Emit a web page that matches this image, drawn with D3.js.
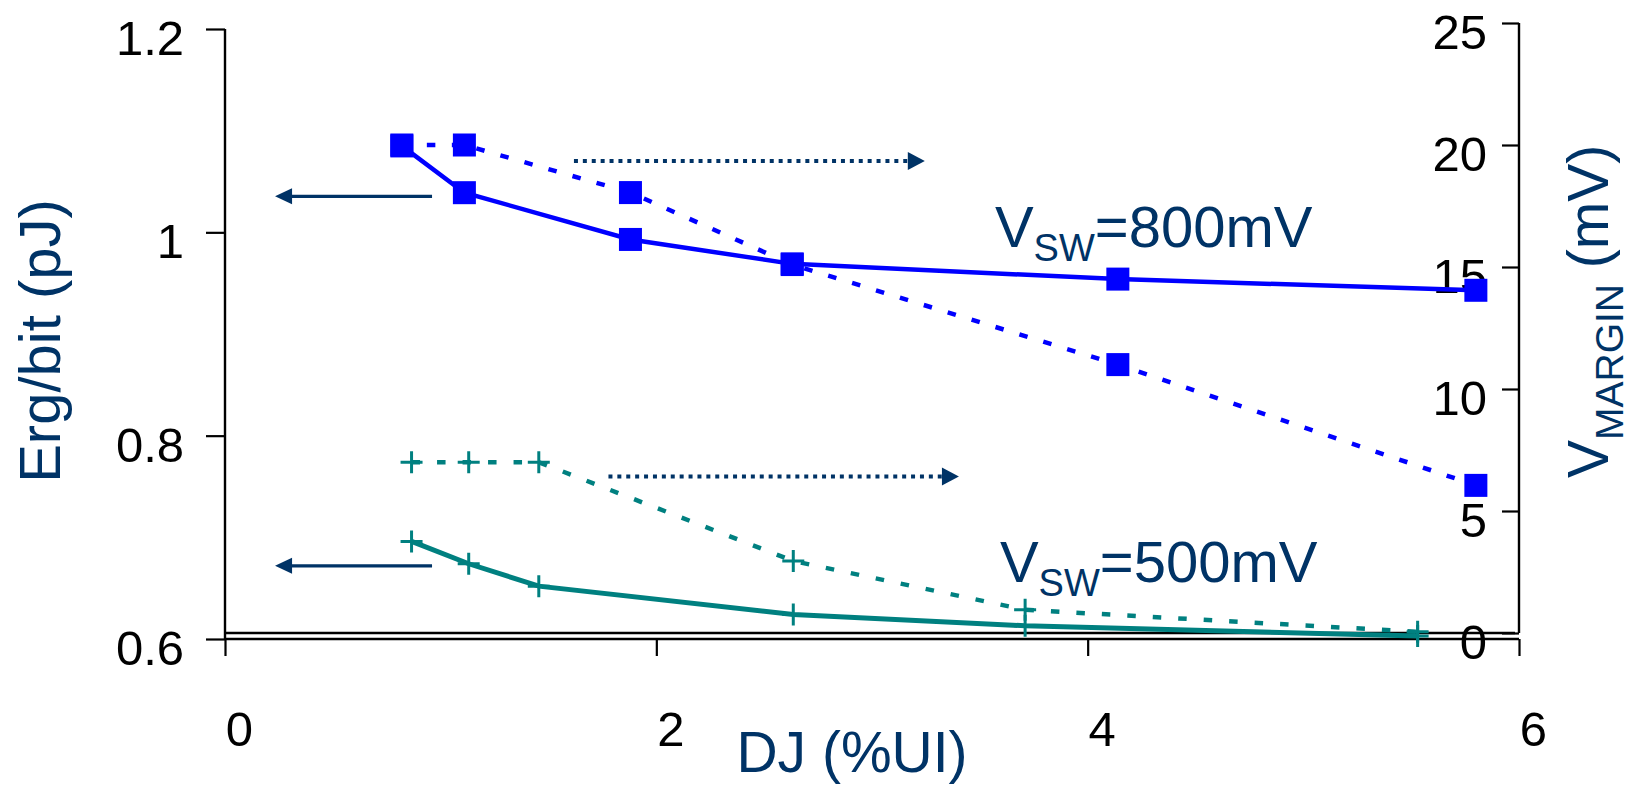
<!DOCTYPE html>
<html>
<head>
<meta charset="utf-8">
<script src="https://cdn.jsdelivr.net/npm/d3@7"></script>
<style>
  html, body { margin: 0; padding: 0; background: #fff; }
  svg { display: block; }
  text { font-family: "Liberation Sans", Arial, sans-serif; }
</style>
</head>
<body>
<svg id="chart" width="1631" height="785"></svg>
<script>
// Jitter tolerance sweep: energy per bit (left axis) and voltage margin (right axis)
const djBlue     = [0.82, 1.11, 1.88, 2.63, 4.14, 5.80];
const ergBlue    = [1.085, 1.039, 0.993, 0.969, 0.954, 0.943];
const marginBlue = [20.0, 20.0, 18.05, 15.1, 11.0, 6.05];

const djTeal     = [0.865, 1.13, 1.455, 2.635, 3.71, 5.53];
const ergTeal    = [0.696, 0.674, 0.652, 0.624, 0.613, 0.603];
const marginTeal = [7.0, 7.0, 7.0, 2.95, 0.95, 0.05];

const xTicks  = [0, 2, 4, 6];
const yLTicks = [0.6, 0.8, 1.0, 1.2];
const yRTicks = [0, 5, 10, 15, 20, 25];

const BLUE = "#0000ff", TEAL = "#008080", NAVY = "#003366";

const svg = d3.select("#chart");

const x  = d3.scaleLinear().domain([0, 6]).range([225, 1519]);
const yL = d3.scaleLinear().domain([0.6, 1.2]).range([639, 29]);
const yR = d3.scaleLinear().domain([0, 25]).range([633, 23]);

const fmtL = d => (d === 1 ? "1" : d3.format(".1f")(d));

// ---- axes ----
const axisL = svg.append("g").attr("transform", `translate(${x(0)},0)`)
  .call(d3.axisLeft(yL).tickValues(yLTicks).tickSize(19).tickFormat(fmtL));
const axisR = svg.append("g").attr("transform", `translate(${x(6)},0)`)
  .call(d3.axisLeft(yR).tickValues(yRTicks).tickSize(17).tickFormat(d3.format("d")));
const axisB = svg.append("g").attr("transform", `translate(0,${yL(0.6)})`)
  .call(d3.axisBottom(x).tickValues(xTicks).tickSize(17).tickFormat(d3.format("d")));
// secondary horizontal axis at zero margin
const axisB2 = svg.append("g").attr("transform", `translate(0,${yR(0)})`)
  .call(d3.axisBottom(x).tickValues([]).tickSizeOuter(0));

[axisL, axisR, axisB, axisB2].forEach(g => {
  g.select(".domain").attr("stroke", "#000").attr("stroke-width", 2.4);
  g.selectAll(".tick line").attr("stroke", "#000").attr("stroke-width", 2.2);
  g.selectAll("text").attr("fill", "#000").attr("font-size", 49)
    .attr("font-family", '"Liberation Sans", Arial, sans-serif');
});
axisL.select(".domain").attr("d", `M0,${yL(1.2)}V${yL(0.6)}`);
axisR.select(".domain").attr("d", `M0,${yR(25)}V${yR(0)}`);
axisB.select(".domain").attr("d", `M${x(0)},0H${x(6)}`);
axisB2.select(".domain").attr("d", `M${x(0)},0H${x(6) - 4}`);

axisL.selectAll(".tick text").attr("x", -41).attr("dy", null).attr("y", 25.5)
  .attr("text-anchor", "end");
axisR.selectAll(".tick text").attr("x", -32).attr("dy", null).attr("y", 25.5)
  .attr("text-anchor", "end");
axisB.selectAll(".tick text").attr("x", 14).attr("dy", null).attr("y", 107)
  .attr("text-anchor", "middle");

// ---- axis titles ----
svg.append("text")
  .attr("transform", `translate(60,341) rotate(-90)`)
  .attr("text-anchor", "middle").attr("font-size", 58).attr("fill", NAVY)
  .text("Erg/bit (pJ)");

const rt = svg.append("text")
  .attr("transform", `translate(1608,478) rotate(-90)`)
  .attr("text-anchor", "start").attr("font-size", 57).attr("fill", NAVY);
rt.append("tspan").text("V");
rt.append("tspan").attr("font-size", 39).attr("dy", 15).text("MARGIN");
rt.append("tspan").attr("dy", -15).text(" (mV)");

svg.append("text")
  .attr("x", 852).attr("y", 772).attr("text-anchor", "middle")
  .attr("font-size", 57).attr("fill", NAVY)
  .text("DJ (%UI)");

// ---- series ----
function series(xs, ys, yScale) {
  return xs.map((d, i) => [x(d), yScale(ys[i])]);
}
const line = d3.line();

const blueErg = series(djBlue, ergBlue, yL);
const blueMar = series(djBlue, marginBlue, yR);
const tealErg = series(djTeal, ergTeal, yL);
const tealMar = series(djTeal, marginTeal, yR);

svg.append("path").attr("d", line(blueMar)).attr("fill", "none")
  .attr("stroke", BLUE).attr("stroke-width", 4.5).attr("stroke-dasharray", "8.5,16.5");
svg.append("path").attr("d", line(blueErg)).attr("fill", "none")
  .attr("stroke", BLUE).attr("stroke-width", 4.5);
svg.append("path").attr("d", line(tealMar)).attr("fill", "none")
  .attr("stroke", TEAL).attr("stroke-width", 4.5).attr("stroke-dasharray", "8.5,17");
svg.append("path").attr("d", line(tealErg)).attr("fill", "none")
  .attr("stroke", TEAL).attr("stroke-width", 5);

// square markers
const SQ = 23;
[blueMar, blueErg].forEach(pts => {
  svg.append("g").selectAll("rect").data(pts).join("rect")
    .attr("x", d => d[0] - SQ / 2).attr("y", d => d[1] - SQ / 2)
    .attr("width", SQ).attr("height", SQ).attr("fill", BLUE);
});
// plus markers
const PL = 11;
[tealMar, tealErg].forEach(pts => {
  svg.append("g").selectAll("path").data(pts).join("path")
    .attr("d", d => `M${d[0] - PL},${d[1]}H${d[0] + PL}M${d[0]},${d[1] - PL}V${d[1] + PL}`)
    .attr("stroke", TEAL).attr("stroke-width", 3).attr("fill", "none");
});

// ---- axis pointer arrows ----
const leftArrows  = [{ from: 0.96, to: 0.232, y: 1.0354 }, { from: 0.96, to: 0.232, y: 0.672 }];
const rightArrows = [{ from: 1.618, to: 3.245, y: 19.34 }, { from: 1.778, to: 3.403, y: 6.41 }];

leftArrows.forEach(a => {
  const yy = yL(a.y), x0 = x(a.from), x1 = x(a.to);
  svg.append("line").attr("x1", x0).attr("x2", x1 + 14).attr("y1", yy).attr("y2", yy)
    .attr("stroke", NAVY).attr("stroke-width", 3.2);
  svg.append("path").attr("d", `M${x1},${yy}L${x1 + 17},${yy - 8}L${x1 + 17},${yy + 8}Z`)
    .attr("fill", NAVY);
});
rightArrows.forEach(a => {
  const yy = yR(a.y), x0 = x(a.from), x1 = x(a.to);
  svg.append("line").attr("x1", x0).attr("x2", x1 - 17).attr("y1", yy).attr("y2", yy)
    .attr("stroke", NAVY).attr("stroke-width", 4).attr("stroke-dasharray", "4,4.9");
  svg.append("path").attr("d", `M${x1},${yy}L${x1 - 17},${yy - 9}L${x1 - 17},${yy + 9}Z`)
    .attr("fill", NAVY);
});

// ---- series labels ----
function vswLabel(xv, yv, val) {
  const t = svg.append("text").attr("x", x(xv)).attr("y", yL(yv))
    .attr("font-size", 58).attr("fill", NAVY);
  t.append("tspan").text("V");
  t.append("tspan").attr("font-size", 38).attr("dy", 14).text("SW");
  t.append("tspan").attr("dy", -14).text("=" + val);
}
vswLabel(3.57, 0.986, "800mV");
vswLabel(3.593, 0.656, "500mV");
</script>
</body>
</html>
